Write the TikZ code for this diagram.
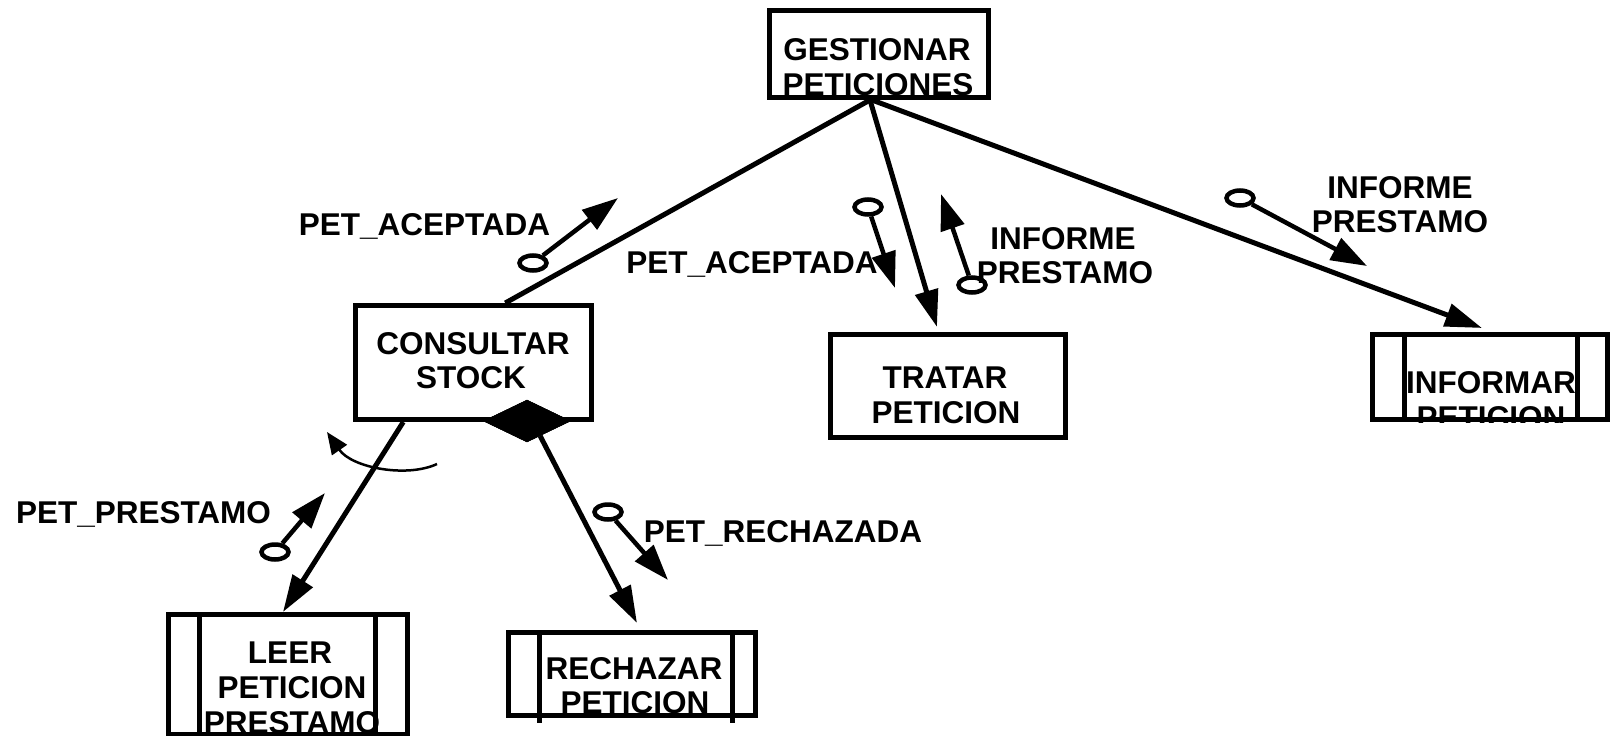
\documentclass[tikz,border=0pt]{standalone}
\usepackage{fontspec}
\setmainfont{Liberation Sans}
\usetikzlibrary{arrows.meta,shapes.geometric,calc}

\begin{document}
\begin{tikzpicture}[x=1pt,y=-1pt,
  procbox/.style={draw,rectangle,line width=5pt,inner sep=0pt},
  txt/.style={inner sep=0pt,anchor=base,font=\fontsize{31.5}{35}\selectfont\bfseries},
  link/.style={line width=5pt},
  flow/.style={line width=5pt,-{Triangle[length=37pt,width=23pt]}},
  ovl/.style={draw,ellipse,line width=4.5pt,minimum width=27pt,minimum height=15pt,inner sep=0pt},
  couple/.style={line width=4.5pt,-{Triangle[length=36pt,width=24pt]}},
  bar/.style={line width=5pt},
  iter/.style={line width=2.5pt,-{Triangle[length=22pt,width=18pt]}}]

\useasboundingbox (0,0) rectangle (1610,736);

% ---- modules ----
\node[procbox,minimum width=219pt,minimum height=87pt]   (gp) at (879,54) {};
\node[procbox,minimum width=235.5pt,minimum height=114pt] (cs) at (473.25,362.5) {};
\node[procbox,minimum width=235pt,minimum height=103pt]  (tp) at (948,386) {};
\node[procbox,minimum width=235pt,minimum height=85pt]   (ip) at (1490,377) {};
\node[procbox,minimum width=239pt,minimum height=120pt]  (lp) at (288,674.5) {};
\node[procbox,minimum width=247pt,minimum height=83pt]   (rp) at (632,674) {};

% predefined-module side bars
\draw[bar] (1404.5,334.5) -- (1404.5,419.5);
\draw[bar] (1577.5,334.5) -- (1577.5,419.5);
\draw[bar] (199.5,614.5) -- (199.5,734.5);
\draw[bar] (375.5,614.5) -- (375.5,734.5);
\draw[bar] (539.5,632.5) -- (539.5,723);
\draw[bar] (732.5,632.5) -- (732.5,723);

% ---- module names ----
\node[txt] (gpa) at (877,60) {GESTIONAR};
\node[txt] (gpb) at (878,95) {PETICIONES};
\node[txt] (csa) at (473,354) {CONSULTAR};
\node[txt] (csb) at (471,388) {STOCK};
\node[txt] (tpa) at (945,388) {TRATAR};
\node[txt] (tpb) at (946,423) {PETICION};
\begin{scope}
  \clip (ip.north west) rectangle (ip.south east);
  \node[txt] (ipa) at (1491,393) {INFORMAR};
  \node[txt] (ipb) at (1491,428) {PETICION};
\end{scope}
\begin{scope}
  \clip (lp.north west) rectangle (lp.south east);
  \node[txt] (lpa) at (290,663) {LEER};
  \node[txt] (lpb) at (292,698) {PETICION};
  \node[txt] (lpc) at (292,733) {PRESTAMO};
\end{scope}
\begin{scope}
  \clip (rp.north west) rectangle (rp.south east);
  \node[txt] (rpa) at (634,679) {RECHAZAR};
  \node[txt] (rpb) at (635,713) {PETICION};
\end{scope}

% ---- calls ----
\coordinate (gpo) at ([xshift=-9pt]gp.south);
\draw[link] (gpo) -- ([xshift=32pt]cs.north);
\draw[flow] (gpo) -- ([xshift=-11pt,yshift=5pt]tp.north);
\draw[flow] ([xshift=-7pt]gp.south) -- ([xshift=-8pt,yshift=4pt]ip.north);
\draw[flow] ([xshift=-70pt]cs.south) -- ([xshift=-5pt]lp.north);

% conditional call
\node[diamond,draw,fill,inner sep=0pt,minimum width=87pt,minimum height=42pt] (dm) at (527,421) {};
\draw[flow] ($(dm.south)!0.3!(dm.east)$) -- ([xshift=5pt,yshift=7pt]rp.north);
\node[diamond,draw,fill,inner sep=0pt,minimum width=87pt,minimum height=42pt] (dm2) at (dm) {};

% iteration
\coordinate (it0) at (437,464);
\coordinate (it1) at (327,432);
\draw[iter] (it0) .. controls (407,478) and (352,468) .. (it1);

% ---- data couples ----
\node[ovl] (o1) at (533,263) {};
\coordinate (a1) at (618,198);
\draw[couple] (o1) -- (a1);
\node[txt] (l1) at (424.5,235) {PET\_ACEPTADA};

\node[ovl] (o2) at (868,207) {};
\coordinate (a2) at (895,288);
\draw[couple] (o2) -- (a2);
\node[txt] (l2) at (752,273) {PET\_ACEPTADA};

\node[ovl] (o3) at (972,285) {};
\coordinate (a3) at (941,194);
\draw[couple] (o3) -- (a3);
\node[txt] (l3a) at (1063,249) {INFORME};
\node[txt] (l3b) at (1065,283) {PRESTAMO};

\node[ovl] (o4) at (1240,198) {};
\coordinate (a4) at (1367,266);
\draw[couple] (o4) -- (a4);
\node[txt] (l4a) at (1400,198) {INFORME};
\node[txt] (l4b) at (1400,232) {PRESTAMO};

\node[ovl] (o5) at (275,552) {};
\coordinate (a5) at (325,493);
\draw[couple] (o5) -- (a5);
\node[txt] (l5) at (143.5,523) {PET\_PRESTAMO};

\node[ovl] (o6) at (608,512) {};
\coordinate (a6) at (668,580);
\draw[couple] (o6) -- (a6);
\node[txt] (l6) at (783,542) {PET\_RECHAZADA};

\end{tikzpicture}
\end{document}
